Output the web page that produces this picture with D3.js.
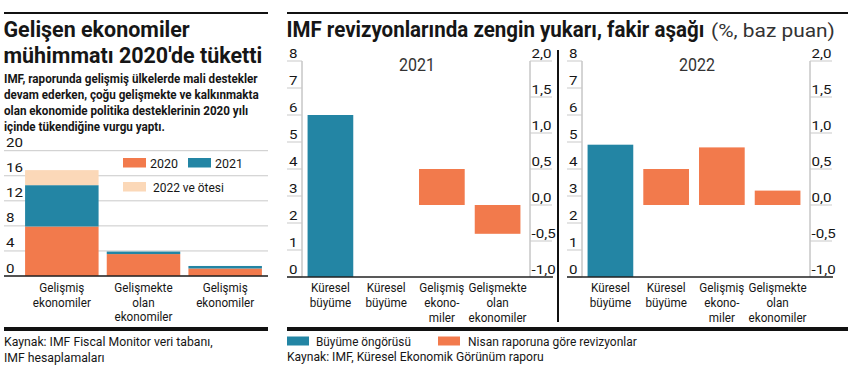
<!DOCTYPE html>
<html><head><meta charset="utf-8">
<script src="https://cdn.jsdelivr.net/npm/d3@7"></script>
<style>
html,body{margin:0;padding:0;background:#fff;}
svg{display:block;font-family:Roboto,"Liberation Sans","DejaVu Sans",sans-serif;}
</style></head>
<body><svg id="c" width="850" height="372"></svg>
<script>
// ---------- DATA ----------
const leftTitle = ["Gelişen ekonomiler", "mühimmatı 2020'de tüketti"];
const leftSubtitle = ["IMF, raporunda gelişmiş ülkelerde mali destekler",
  "devam ederken, çoğu gelişmekte ve kalkınmakta",
  "olan ekonomide politika desteklerinin 2020 yılı",
  "içinde tükendiğine vurgu yaptı."];
const leftCategories = [["Gelişmiş","ekonomiler"],["Gelişmekte","olan","ekonomiler"],["Gelişmiş","ekonomiler"]];
const series2020 = [7.9, 3.5, 1.2];
const series2021 = [6.6, 0.4, 0.4];
const series2022 = [2.4, 0, 0];
const leftTicks = [0, 4, 8, 12, 16, 20];
const leftSeriesNames = ["2020", "2021", "2022 ve ötesi"];
const leftSource = ["Kaynak: IMF Fiscal Monitor veri tabanı,", "IMF hesaplamaları"];

const rightTitle = "IMF revizyonlarında zengin yukarı, fakir aşağı";
const rightTitleUnit = "(%, baz puan)";
const years = ["2021", "2022"];
const rightCategories = [["Küresel","büyüme"],["Küresel","büyüme"],["Gelişmiş","ekono-","miler"],["Gelişmekte","olan","ekonomiler"]];
const growthForecast = [6.0, 4.9];          // Büyüme öngörüsü (first category)
const revisions2021 = [null, 0.0, 0.5, -0.4]; // Nisan raporuna göre revizyonlar
const revisions2022 = [null, 0.5, 0.8, 0.2];
const leftAxisTicks = [0,1,2,3,4,5,6,7,8];
const rightAxisTicks = [-1.0,-0.5,0.0,0.5,1.0,1.5,2.0];
const rightLegend = ["Büyüme öngörüsü", "Nisan raporuna göre revizyonlar"];
const rightSource = "Kaynak: IMF, Küresel Ekonomik Görünüm raporu";

// ---------- STYLE ----------
const TEAL = "#2385a4", ORANGE = "#f27a4c", PEACH = "#fbd8b8", GRID = "#c9c9c9", INK = "#161616";
const svg = d3.select("#c");

function measure(str, size, weight){
  const t = svg.append("text").attr("font-size",size).attr("font-weight",weight||400).text(str);
  const w = t.node().getComputedTextLength(); t.remove(); return w;
}
// multi-line text condensed horizontally; opts.w => target width of widest line, opts.k => factor
function T(g, x, y, lines, size, opts={}){
  if(!Array.isArray(lines)) lines = [lines];
  const lh = opts.lh || size*1.2;
  const wrap = g.append("g");
  const t = wrap.append("text").attr("font-size",size).attr("fill",opts.fill||INK);
  if(opts.weight) t.attr("font-weight",opts.weight);
  if(opts.anchor) t.attr("text-anchor",opts.anchor);
  lines.forEach((s,i)=> t.append("tspan").attr("x",0).attr("y",i*lh).text(s));
  let nat = 0;
  t.selectAll("tspan").each(function(){ nat = Math.max(nat, this.getComputedTextLength()); });
  const sx = opts.w ? opts.w/nat : (opts.k||1);
  wrap.attr("transform",`translate(${x},${y}) scale(${sx.toFixed(4)},1)`);
  return t;
}
const LBL = 12.4;
const kLbl = 58/measure("ekonomiler", LBL);   // category label condensing
const kNum = 20/measure("2,0", 13.5);          // axis number condensing

// ================= LEFT PANEL =================
const L = svg.append("g");
L.append("line").attr("x1",4).attr("x2",268).attr("y1",13).attr("y2",13).attr("stroke","#111").attr("stroke-width",2);
T(L, 3.5, 37, leftTitle, 21.5, {w:259, weight:700, lh:26});
T(L, 4, 83, leftSubtitle, 12.5, {w:255, weight:700, lh:16});

const yL = d3.scaleLinear().domain([0,20]).range([276,150.7]);
const xL = d3.scaleBand().domain(d3.range(leftCategories.length)).range([21,266]).paddingInner(0.1).paddingOuter(0.05);

L.selectAll(".lg").data(leftTicks).join("line")
  .attr("x1",4).attr("x2",268).attr("y1",d=>yL(d)).attr("y2",d=>yL(d))
  .attr("stroke",GRID).attr("stroke-width",1);
leftTicks.forEach(d=> T(L, 6, yL(d)-3.5, String(d), 13.5, {k:kNum}));

const stacked = d3.stack().keys([0,1,2])(leftCategories.map((c,i)=>({0:series2020[i],1:series2021[i],2:series2022[i]})));
const lColors = [ORANGE, TEAL, PEACH];
stacked.forEach((layer,k)=>{
  L.selectAll(".b"+k).data(layer).join("rect")
    .attr("x",(d,i)=>xL(i)).attr("width",xL.bandwidth())
    .attr("y",d=>yL(d[1])).attr("height",d=>Math.max(0,yL(d[0])-yL(d[1])))
    .attr("fill",lColors[k]);
});
L.append("line").attr("x1",4).attr("x2",268).attr("y1",yL(0)).attr("y2",yL(0)).attr("stroke","#222").attr("stroke-width",1.5);

leftCategories.forEach((lines,i)=>{
  T(L, xL(i)+xL.bandwidth()/2, 292, lines, LBL, {k:kLbl, anchor:"middle", lh:14.7});
});

// legend
const legPos = [[123,158],[188,158],[123,182]];
leftSeriesNames.forEach((n,k)=>{
  L.append("rect").attr("x",legPos[k][0]).attr("y",legPos[k][1]).attr("width",23).attr("height",9.5).attr("fill",lColors[k]);
  T(L, legPos[k][0]+(k==2?30:27), legPos[k][1]+9.5, n, 13.5, {w: k==2?71:28});
});

L.append("line").attr("x1",4).attr("x2",268).attr("y1",329).attr("y2",329).attr("stroke","#111").attr("stroke-width",4);
T(L, 4, 346, leftSource, 13, {w:209, lh:16});

// ================= RIGHT PANEL =================
const R = svg.append("g");
R.append("line").attr("x1",287).attr("x2",848).attr("y1",13).attr("y2",13).attr("stroke","#111").attr("stroke-width",2);
T(R, 286.5, 37, rightTitle, 21.5, {w:418, weight:700});
T(R, 711, 37, rightTitleUnit, 19, {w:124, fill:"#333"});

const yG = d3.scaleLinear().domain([0,8]).range([277,61]);
const yR = d3.scaleLinear().domain([-1,2]).range([277,61]);
const revs = [revisions2021, revisions2022];
const fmt = d => d3.format(".1f")(d).replace(".",",").replace("−","-");

years.forEach((yr,p)=>{
  const ox = p*280;
  const a0 = 302+ox, a1 = 530+ox;
  const g = R.append("g");
  const xR = d3.scaleBand().domain(d3.range(rightCategories.length)).range([a0,a0+224]).paddingInner(0.18).paddingOuter(0.1);
  // left axis
  g.append("line").attr("x1",a0).attr("x2",a0).attr("y1",yG(8)).attr("y2",yG(0)).attr("stroke","#aaa").attr("stroke-width",1);
  g.selectAll(".lt").data(leftAxisTicks).join("line")
    .attr("x1",a0-15).attr("x2",a0).attr("y1",d=>yG(d)).attr("y2",d=>yG(d)).attr("stroke",GRID);
  leftAxisTicks.forEach(d=> T(g, a0-13, yG(d)-3.5, String(d), 13.5, {k:kNum}));
  // right axis
  g.append("line").attr("x1",a1).attr("x2",a1).attr("y1",yR(2)).attr("y2",yR(-1)).attr("stroke","#aaa").attr("stroke-width",1);
  g.selectAll(".rt").data(rightAxisTicks).join("line")
    .attr("x1",a1).attr("x2",a1+22).attr("y1",d=>yR(d)).attr("y2",d=>yR(d)).attr("stroke",GRID);
  rightAxisTicks.forEach(d=> T(g, a1+1.5, yR(d)-3.5, fmt(d), 13.5, {k:kNum}));
  // year title
  T(g, (a0+a1)/2+1, 71, yr, 18.5, {w:36, anchor:"middle", fill:"#333"});
  // growth bar
  g.append("rect").attr("x",xR(0)).attr("width",xR.bandwidth()).attr("y",yG(growthForecast[p])).attr("height",yG(0)-yG(growthForecast[p])).attr("fill",TEAL);
  // revision bars
  g.selectAll(".rv").data(revs[p].map((v,i)=>({v,i})).filter(d=>d.v!==null && d.v!==0)).join("rect")
    .attr("x",d=>xR(d.i)).attr("width",xR.bandwidth())
    .attr("y",d=>yR(Math.max(0,d.v))).attr("height",d=>Math.abs(yR(d.v)-yR(0)))
    .attr("fill",ORANGE);
  // baseline
  g.append("line").attr("x1",a0-15).attr("x2",a1+23).attr("y1",yG(0)).attr("y2",yG(0)).attr("stroke","#222").attr("stroke-width",1.5);
  // category labels
  rightCategories.forEach((lines,i)=>{
    T(g, xR(i)+xR.bandwidth()/2, 291.5, lines, LBL, {k:kLbl, anchor:"middle", lh:15.2});
  });
});
// separator
R.append("line").attr("x1",558).attr("x2",558).attr("y1",50).attr("y2",322).attr("stroke","#111").attr("stroke-width",2);

R.append("line").attr("x1",287).attr("x2",848).attr("y1",329).attr("y2",329).attr("stroke","#111").attr("stroke-width",4);
const rlx = [[287,316],[438,468]];
const rlw = [95, 169];
[TEAL, ORANGE].forEach((c,k)=>{
  R.append("rect").attr("x",rlx[k][0]).attr("y",336.5).attr("width",22).attr("height",9).attr("fill",c);
  T(R, rlx[k][1], 345.5, rightLegend[k], 13, {w:rlw[k]});
});
T(R, 287, 361, rightSource, 13, {w:257});
</script></body></html>
